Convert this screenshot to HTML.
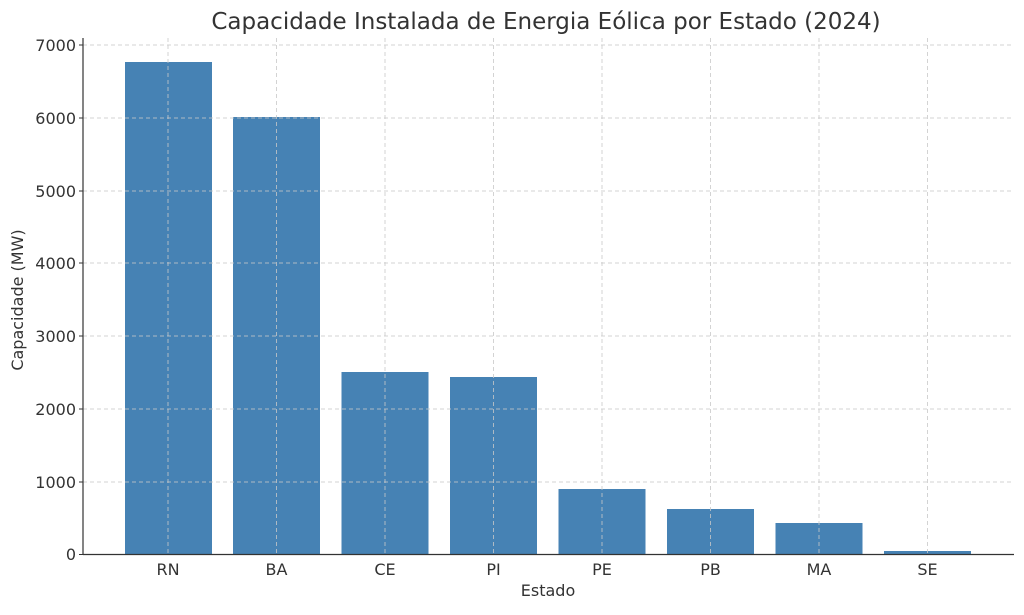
<!DOCTYPE html>
<html><head><meta charset="utf-8"><style>body{margin:0;background:#fff}</style></head><body>
<svg width="1024" height="610" xmlns="http://www.w3.org/2000/svg" font-family="'DejaVu Sans', 'Liberation Sans', sans-serif">
<rect width="1024" height="610" fill="#fff"/>
<g fill="#4682b4">
<rect x="125" y="62" width="87" height="492"/>
<rect x="233" y="117" width="87" height="437"/>
<rect x="341.5" y="372" width="87" height="182"/>
<rect x="450" y="377" width="87" height="177"/>
<rect x="558.5" y="489" width="87" height="65"/>
<rect x="667" y="509" width="87" height="45"/>
<rect x="775.5" y="523" width="87" height="31"/>
<rect x="884" y="551" width="87" height="3"/>
</g>
<g stroke="#c8c8c8" stroke-opacity="0.8" stroke-dasharray="4,3" stroke-width="1">
<line x1="83" x2="1014" y1="45" y2="45"/><line x1="83" x2="1014" y1="118" y2="118"/><line x1="83" x2="1014" y1="191" y2="191"/><line x1="83" x2="1014" y1="263" y2="263"/><line x1="83" x2="1014" y1="336" y2="336"/><line x1="83" x2="1014" y1="409" y2="409"/><line x1="83" x2="1014" y1="482" y2="482"/>
<line x1="168" x2="168" y1="38" y2="554"/><line x1="276.5" x2="276.5" y1="38" y2="554"/><line x1="385" x2="385" y1="38" y2="554"/><line x1="493.5" x2="493.5" y1="38" y2="554"/><line x1="602" x2="602" y1="38" y2="554"/><line x1="710.5" x2="710.5" y1="38" y2="554"/><line x1="819" x2="819" y1="38" y2="554"/><line x1="927.5" x2="927.5" y1="38" y2="554"/>
</g>
<line x1="83" x2="83" y1="38" y2="554.5" stroke="#333" stroke-width="1.2"/>
<line x1="83" x2="1014" y1="554.5" y2="554.5" stroke="#333" stroke-width="1.2"/>
<g stroke="#333"><line x1="79" x2="83" y1="45" y2="45"/><line x1="79" x2="83" y1="118" y2="118"/><line x1="79" x2="83" y1="191" y2="191"/><line x1="79" x2="83" y1="263" y2="263"/><line x1="79" x2="83" y1="336" y2="336"/><line x1="79" x2="83" y1="409" y2="409"/><line x1="79" x2="83" y1="482" y2="482"/><line x1="79" x2="83" y1="554.5" y2="554.5"/></g>
<g font-size="16" fill="#333" text-anchor="end">
<text x="76" y="51">7000</text><text x="76" y="124">6000</text><text x="76" y="197">5000</text><text x="76" y="269">4000</text><text x="76" y="342">3000</text><text x="76" y="415">2000</text><text x="76" y="488">1000</text><text x="76" y="560">0</text>
</g>
<g font-size="16" fill="#333" text-anchor="middle">
<text x="168" y="575">RN</text><text x="276.5" y="575">BA</text><text x="385" y="575">CE</text><text x="493.5" y="575">PI</text><text x="602" y="575">PE</text><text x="710.5" y="575">PB</text><text x="819" y="575">MA</text><text x="927.5" y="575">SE</text>
<text x="548" y="596">Estado</text>
<text x="546" y="29" font-size="23">Capacidade Instalada de Energia Eólica por Estado (2024)</text>
<text transform="translate(23,300) rotate(-90)">Capacidade (MW)</text>
</g>
</svg>
</body></html>
